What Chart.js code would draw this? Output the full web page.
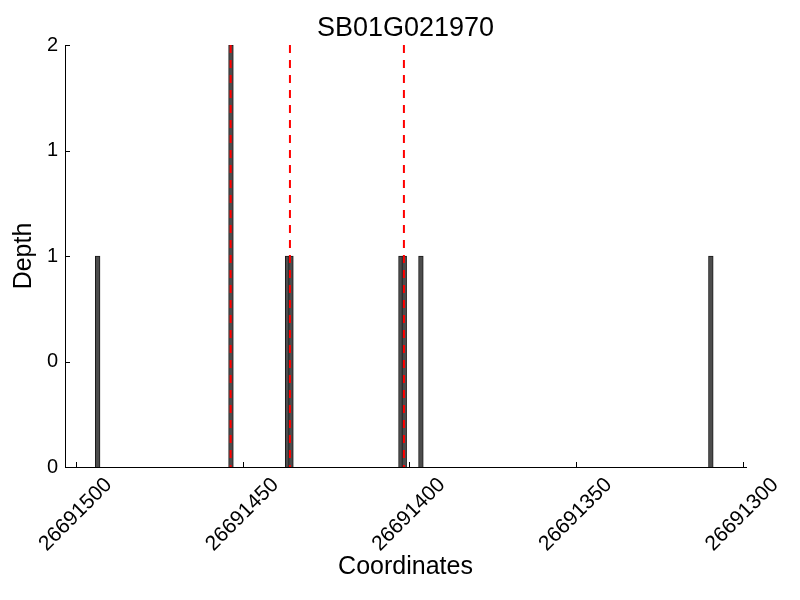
<!DOCTYPE html>
<html>
<head>
<meta charset="utf-8">
<script src="https://cdn.jsdelivr.net/npm/chart.js@4/dist/chart.umd.min.js"></script>
<style>
  html, body { margin: 0; padding: 0; background: #ffffff; }
  #wrap { width: 800px; height: 600px; }
</style>
</head>
<body>
<div id="wrap"><canvas id="c" width="800" height="600"></canvas></div>
<script>
// ---- data ----
const chartTitle = 'SB01G021970';
const xAxisTitle = 'Coordinates';
const yAxisTitle = 'Depth';
const barPositions = [26691493.5, 26691453.5, 26691436.5, 26691435.5, 26691402.5, 26691401.5, 26691396.5, 26691309.5];
const barDepths    = [1, 2, 1, 1, 1, 1, 1, 1];
const markerPositions = [26691453.6, 26691435.8, 26691401.6];
const xTickValues = [26691500, 26691450, 26691400, 26691350, 26691300];
const xTickLabels = ['26691500', '26691450', '26691400', '26691350', '26691300'];
const yTickValues = [0, 0.5, 1, 1.5, 2];
const yTickLabels = ['0', '0', '1', '1', '2'];
const xMin = 26691298.95, xMax = 26691503.3;
const yMin = 0, yMax = 2;

const FONT = "'Liberation Sans', Arial, Helvetica, sans-serif";

const barData = barPositions.map((x, i) => ({ x: x, y: barDepths[i] }));
const markerDatasets = markerPositions.map(x => ({
  type: 'line',
  data: [{ x: x, y: yMax }, { x: x, y: yMin }],
  borderColor: '#ff0000',
  borderWidth: 2,
  borderDash: [8, 7],
  pointRadius: 0,
  fill: false,
  tension: 0,
  order: 1
}));

const innerTicksAndLabels = {
  id: 'innerTicksAndLabels',
  afterDraw(chart) {
    const ctx = chart.ctx;
    const xs = chart.scales.x, ys = chart.scales.y;
    const area = chart.chartArea;
    ctx.save();
    ctx.strokeStyle = '#000000';
    ctx.lineWidth = 1;
    // inward tick marks
    xTickValues.forEach(v => {
      const px = Math.round(xs.getPixelForValue(v)) + 0.5;
      ctx.beginPath();
      ctx.moveTo(px, area.bottom);
      ctx.lineTo(px, area.bottom - 5);
      ctx.stroke();
    });
    yTickValues.forEach(v => {
      const py = Math.round(ys.getPixelForValue(v)) + 0.5;
      ctx.beginPath();
      ctx.moveTo(area.left, py);
      ctx.lineTo(area.left + 5, py);
      ctx.stroke();
    });
    // rotated x tick labels, centred on their ticks
    const fs = 21;
    ctx.font = fs + 'px ' + FONT;
    ctx.fillStyle = '#000000';
    ctx.textAlign = 'center';
    ctx.textBaseline = 'alphabetic';
    xTickValues.forEach((v, i) => {
      const px = xs.getPixelForValue(v);
      const L = ctx.measureText(xTickLabels[i]).width;
      const cy = area.bottom + 8 + (L + 0.72 * fs) * 0.35355;
      ctx.save();
      ctx.translate(px - 1.5, cy);
      ctx.rotate(-Math.PI / 4);
      ctx.fillText(xTickLabels[i], 0, 0.36 * fs);
      ctx.restore();
    });
    ctx.restore();
  }
};

new Chart(document.getElementById('c'), {
  type: 'bar',
  data: {
    datasets: [
      {
        type: 'bar',
        data: barData,
        backgroundColor: '#4d4d4d',
        borderColor: '#1a1a1a',
        borderWidth: 1,
        barThickness: 4.7,
        grouped: false,
        order: 2
      },
      ...markerDatasets
    ]
  },
  options: {
    responsive: false,
    animation: false,
    layout: { padding: { left: 0, right: 54, top: 0, bottom: 0 } },
    plugins: {
      legend: { display: false },
      tooltip: { enabled: false },
      title: {
        display: true,
        text: chartTitle,
        color: '#000000',
        fullSize: false,
        font: { family: FONT, size: 27, weight: 'normal' },
        padding: { top: 12, bottom: 0.6 }
      }
    },
    scales: {
      x: {
        type: 'linear',
        reverse: true,
        offset: false,
        min: xMin,
        max: xMax,
        grid: { display: false, drawTicks: false, offset: false },
        border: { display: true, color: '#000000', width: 1 },
        ticks: { display: false },
        title: {
          display: true,
          text: xAxisTitle,
          color: '#000000',
          font: { family: FONT, size: 25, weight: 'normal' },
          padding: { top: 0, bottom: 18 }
        },
        afterFit(scale) { scale.height = 133; }
      },
      y: {
        type: 'linear',
        min: yMin,
        max: yMax,
        grid: { display: false, drawTicks: false },
        border: { display: true, color: '#000000', width: 1 },
        ticks: {
          stepSize: 0.5,
          padding: 7,
          color: '#000000',
          font: { family: FONT, size: 20 },
          callback: (v, i) => yTickLabels[i]
        },
        title: {
          display: true,
          text: yAxisTitle,
          color: '#000000',
          font: { family: FONT, size: 25, weight: 'normal' },
          padding: { top: 9, bottom: 0 }
        },
        afterFit(scale) { scale.width = 65; }
      }
    }
  },
  plugins: [innerTicksAndLabels]
});
</script>
</body>
</html>
